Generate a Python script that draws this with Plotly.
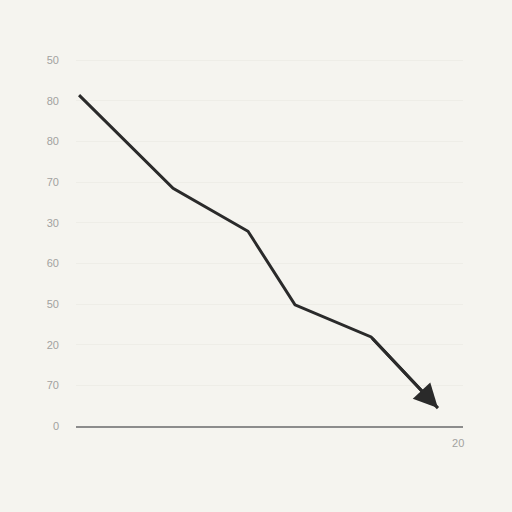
import plotly.graph_objects as go

# values (y in tick-slot units, 0 = baseline)
x_vals = [0.16, 5.08, 9.0, 11.46, 15.44, 18.94]
y_vals = [8.14, 5.85, 4.79, 2.98, 2.19, 0.44]

# the y tick labels as printed in the reference
y_tick_pos = [0, 1, 2, 3, 4, 5, 6, 7, 8, 9]
y_tick_text = ["0", "70", "20", "50", "60", "30", "70", "80", "80", "50"]
x_tick_pos = [20]
x_tick_text = ["20"]

bg = "#f5f4ef"
ink = "#2a2a2a"
label_grey = "#a2a2a0"

fig = go.Figure()
fig.add_trace(go.Scatter(
    x=x_vals, y=y_vals, mode="lines",
    line=dict(color=ink, width=3),
    hoverinfo="skip", showlegend=False))

# arrowhead on the last segment
fig.add_annotation(
    x=x_vals[-1], y=y_vals[-1], ax=x_vals[-2], ay=y_vals[-2],
    xref="x", yref="y", axref="x", ayref="y",
    showarrow=True, arrowhead=2, arrowsize=1.6, arrowwidth=3,
    arrowcolor=ink, text="")

fig.update_layout(
    template="none",
    width=512, height=512,
    paper_bgcolor=bg, plot_bgcolor=bg,
    margin=dict(l=76, r=49, t=48, b=86),
    font=dict(family="Liberation Sans, Arial, sans-serif", size=11, color=label_grey),
    xaxis=dict(
        range=[0, 20.25], tickvals=x_tick_pos, ticktext=x_tick_text,
        tickfont=dict(color=label_grey, size=11),
        showgrid=False, zeroline=False,
        showline=True, linecolor="#8c8c8c", linewidth=2,
        ticks="", ticklabelstandoff=6, fixedrange=True),
    yaxis=dict(
        range=[0, 9.3], tickvals=y_tick_pos, ticktext=y_tick_text,
        tickfont=dict(color=label_grey, size=11),
        showgrid=True, gridcolor="#eeede7", gridwidth=1,
        zeroline=False, showline=False,
        ticks="", ticklabelstandoff=16, fixedrange=True),
)

# page body margin would shift the chart off the 512x512 window
fig.write_html("out.html", config={"displayModeBar": False},
               post_script="document.body.style.margin='0';")
